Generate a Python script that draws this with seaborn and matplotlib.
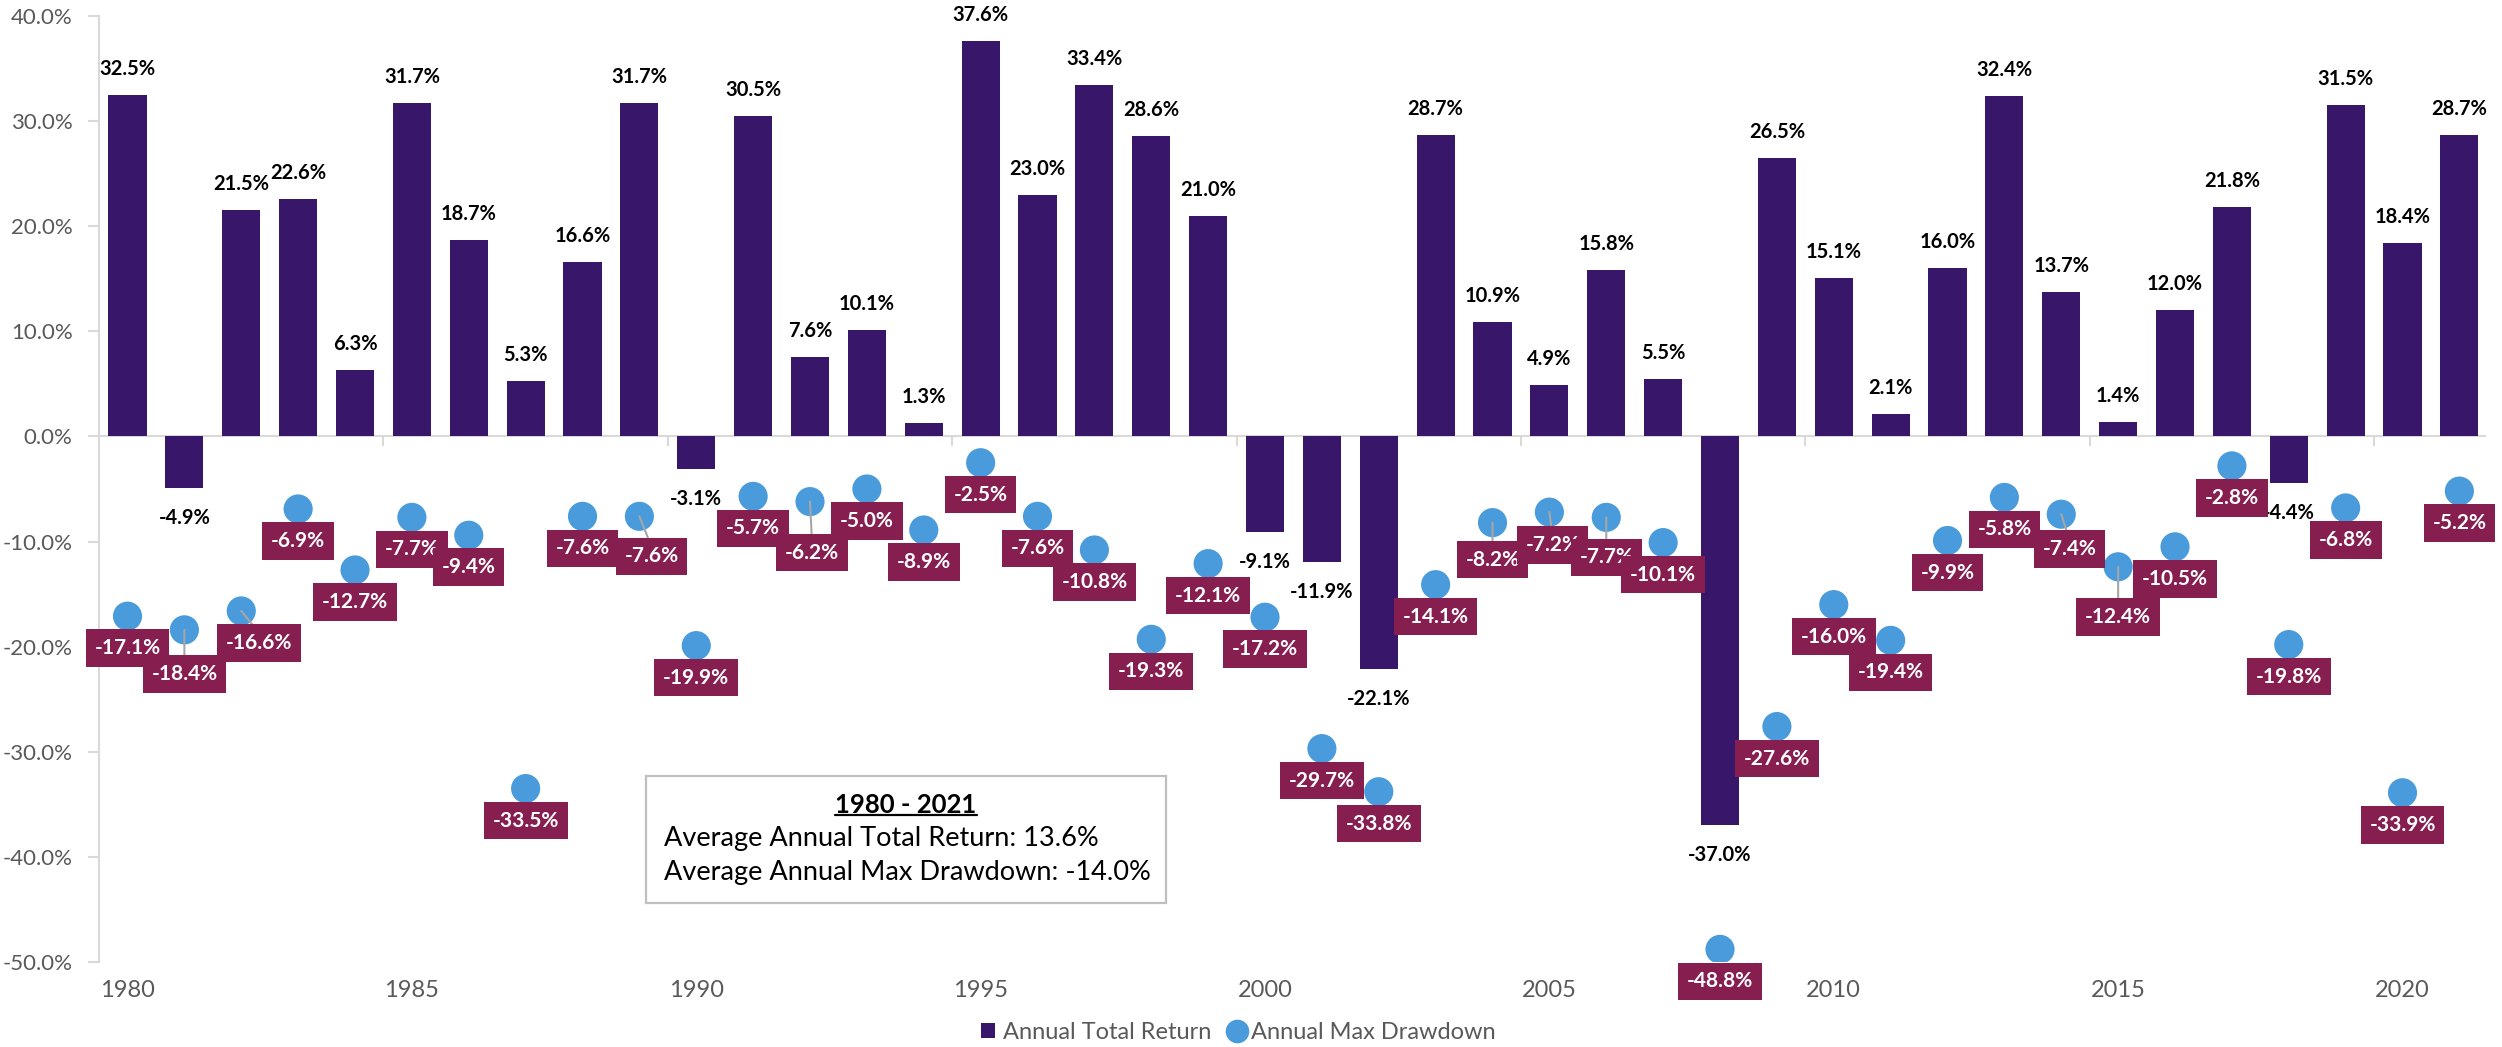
import numpy as np
import pandas as pd
import matplotlib
matplotlib.use("Agg")
import matplotlib.pyplot as plt
import seaborn as sns
from matplotlib.patches import Patch, Rectangle
from matplotlib.lines import Line2D

years = list(range(1980, 2022))
annual_return = [32.5, -4.9, 21.5, 22.6, 6.3, 31.7, 18.7, 5.3, 16.6, 31.7,
                 -3.1, 30.5, 7.6, 10.1, 1.3, 37.6, 23.0, 33.4, 28.6, 21.0,
                 -9.1, -11.9, -22.1, 28.7, 10.9, 4.9, 15.8, 5.5, -37.0, 26.5,
                 15.1, 2.1, 16.0, 32.4, 13.7, 1.4, 12.0, 21.8, -4.4, 31.5,
                 18.4, 28.7]
max_drawdown = [-17.1, -18.4, -16.6, -6.9, -12.7, -7.7, -9.4, -33.5, -7.6, -7.6,
                -19.9, -5.7, -6.2, -5.0, -8.9, -2.5, -7.6, -10.8, -19.3, -12.1,
                -17.2, -29.7, -33.8, -14.1, -8.2, -7.2, -7.7, -10.1, -48.8, -27.6,
                -16.0, -19.4, -9.9, -5.8, -7.4, -12.4, -10.5, -2.8, -19.8, -6.8,
                -33.9, -5.2]
xtick_years = [1980, 1985, 1990, 1995, 2000, 2005, 2010, 2015, 2020]
yticks = [-50, -40, -30, -20, -10, 0, 10, 20, 30, 40]
box_title = "1980 - 2021"
box_lines = ["Average Annual Total Return: 13.6%",
             "Average Annual Max Drawdown: -14.0%"]
legend_labels = ["Annual Total Return", "Annual Max Drawdown"]

# label offsets in pixels (dx, dy below dot centre) for manually moved labels
label_offsets = {1981: (0, 44), 1982: (18, 32), 1989: (12, 40), 1992: (2, 51),
                 2004: (0, 37), 2005: (3, 33), 2006: (0, 40), 2014: (8, 35),
                 2015: (0, 50)}

df = pd.DataFrame({"year": years, "ret": annual_return, "dd": max_drawdown})

BAR = "#38176A"
DOT = "#4A9BDB"
BOX = "#861F4F"
GREY_TXT = "#595959"
AXIS = "#D9D9D9"

sns.set_style("white")
plt.rcParams['font.family'] = ['Lato', 'DejaVu Sans']

fig = plt.figure(figsize=(25.02, 10.47), dpi=100)
ax = fig.add_axes([0.0396, 0.0812, 0.9536, 0.9035])

sns.barplot(data=df, x="year", y="ret", native_scale=True, width=0.67,
            color=BAR, saturation=1, errorbar=None, ax=ax, linewidth=0, zorder=2)
sns.scatterplot(data=df, x="year", y="dd", s=440, color=DOT, edgecolor="none",
                ax=ax, zorder=4, legend=False)

ax.set_xlim(1979.5, 2021.45)
ax.set_ylim(-50, 40)
ax.set_xlabel("")
ax.set_ylabel("")
ax.set_yticks(yticks)
ax.set_yticklabels([f"{v:.1f}%" for v in yticks], color=GREY_TXT, fontsize=16)
ax.set_xticks(xtick_years)
ax.set_xticklabels([str(y) for y in xtick_years], color=GREY_TXT, fontsize=17)
ax.tick_params(axis='x', length=0, pad=13)
ax.tick_params(axis='y', length=8, width=1.5, color=AXIS, pad=11, direction='out', left=True)
for s in ["top", "right", "bottom"]:
    ax.spines[s].set_visible(False)
ax.spines["left"].set_color(AXIS)
ax.spines["left"].set_linewidth(1.5)
ax.grid(False)

# zero line with category tick marks
sec = ax.secondary_xaxis(0, transform=ax.transData)
sec.spines["bottom"].set_color(AXIS)
sec.spines["bottom"].set_linewidth(1.5)
sec.set_xticks([y - 0.5 for y in xtick_years[1:]])
sec.set_xticklabels([])
sec.tick_params(axis='x', length=7, width=1.5, color=AXIS, direction='out')

# bar value labels
for y, r in zip(years, annual_return):
    off = 26 if r >= 0 else -30
    ax.annotate(f"{r:.1f}%", xy=(y, r), xytext=(0, off), textcoords="offset pixels",
                ha="center", va="center", fontsize=14.5, fontweight="bold",
                color="black", zorder=5)

# drawdown labels
for y, d in zip(years, max_drawdown):
    dx, dy = label_offsets.get(y, (0, 32))
    kw = {}
    if y in label_offsets:
        kw["arrowprops"] = dict(arrowstyle="-", color="#A6A6A6", lw=1.5,
                                shrinkA=0, shrinkB=0, relpos=(0.5, 1.0))
    ax.annotate(f"{d:.1f}%", xy=(y, d), xytext=(dx, -dy), textcoords="offset pixels",
                ha="center", va="center", fontsize=15, fontweight="bold",
                color="white", zorder=6,
                bbox=dict(boxstyle="square,pad=0.42", fc=BOX, ec="none"), **kw)

# summary box
fig.patches.append(Rectangle((0.2582, 0.1375), 0.2078, 0.1213, transform=fig.transFigure,
                             fill=False, ec="#BFBFBF", lw=1.6, zorder=10))
t = fig.text(0.3621, 0.2311, box_title, ha="center", va="center", fontsize=18.5,
             fontweight="bold", color="black")
fig.text(0.2654, 0.1987, box_lines[0], ha="left", va="center", fontsize=19.5, color="black")
fig.text(0.2654, 0.1662, box_lines[1], ha="left", va="center", fontsize=19.5, color="black")
fig.canvas.draw()
bb = t.get_window_extent()
uy = bb.y0 + 2
fig.lines.append(Line2D([bb.x0 / fig.bbox.width, bb.x1 / fig.bbox.width],
                        [uy / fig.bbox.height, uy / fig.bbox.height],
                        transform=fig.transFigure, color="black", lw=1.6))

handles = [Patch(facecolor=BAR, edgecolor="none"),
           Line2D([], [], marker="o", linestyle="none", markersize=17,
                  markerfacecolor=DOT, markeredgecolor="none")]
leg = fig.legend(handles, legend_labels, loc="center", bbox_to_anchor=(0.495, 0.0143),
                 ncol=2, frameon=False, fontsize=17, handlelength=0.6, handleheight=0.6,
                 handletextpad=0.3, columnspacing=0.8)
for txt in leg.get_texts():
    txt.set_color(GREY_TXT)

fig.savefig("out.png", dpi=100)
